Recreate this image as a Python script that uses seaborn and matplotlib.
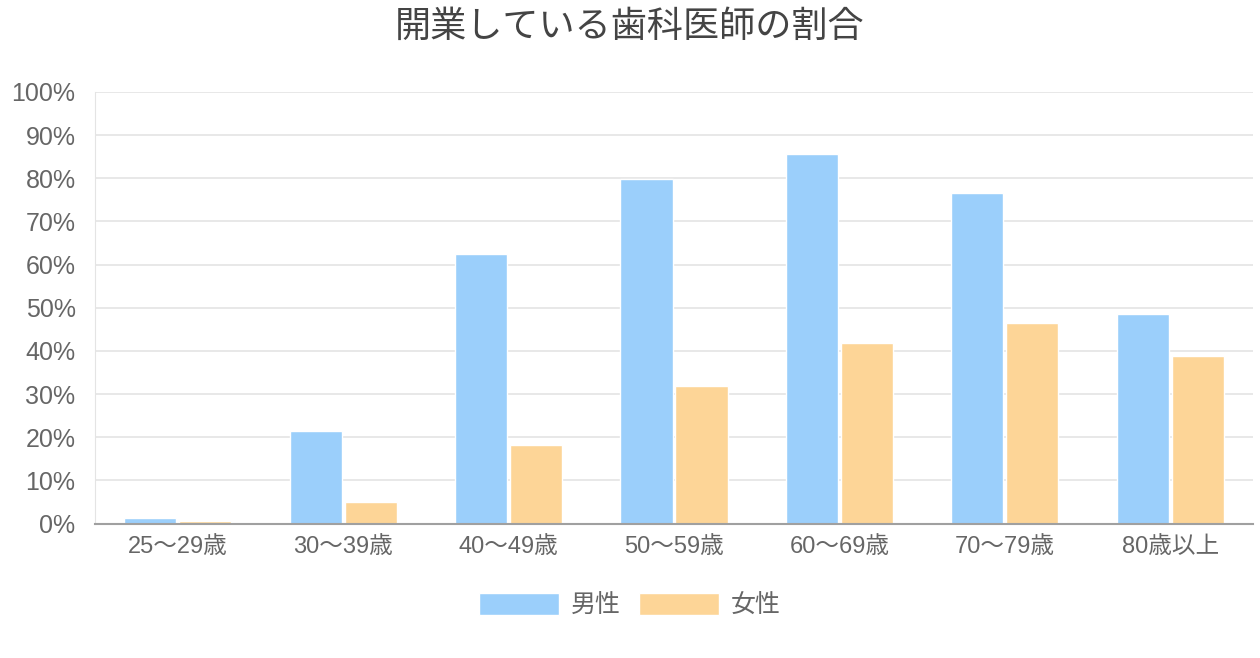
import pandas as pd
import matplotlib.pyplot as plt
import seaborn as sns
from matplotlib.ticker import MultipleLocator, FuncFormatter

age_groups = ['25〜29歳', '30〜39歳', '40〜49歳', '50〜59歳', '60〜69歳', '70〜79歳', '80歳以上']
male = [1.2, 21.4, 62.5, 79.9, 85.7, 76.5, 48.5]
female = [0.6, 5.0, 18.3, 31.9, 41.8, 46.4, 38.8]
series = ['男性', '女性']

df = pd.DataFrame({
    'age': age_groups * 2,
    'sex': [series[0]] * len(age_groups) + [series[1]] * len(age_groups),
    'rate': male + female,
})

sns.set_style('white')
plt.rcParams['font.family'] = ['Liberation Sans', 'Noto Sans CJK JP', 'DejaVu Sans']

fig = plt.figure(figsize=(12.6, 6.58), dpi=100)
ax = fig.add_axes([0.0754, 0.2044, 0.9190, 0.6558])

palette = {'男性': '#9bcffb', '女性': '#fdd597'}
sns.barplot(data=df, x='age', y='rate', hue='sex', order=age_groups,
            hue_order=series, palette=palette, width=0.665, gap=0.05,
            saturation=1, ax=ax, legend=True)

ax.set_ylim(0, 100)
ax.set_xlim(-0.5, len(age_groups) - 0.5)
ax.yaxis.set_major_locator(MultipleLocator(10))
ax.yaxis.set_major_formatter(FuncFormatter(lambda v, p: f'{int(v)}%'))
ax.set_xlabel('')
ax.set_ylabel('')
ax.grid(axis='y', color='#e4e4e4', linewidth=1.2)
ax.set_axisbelow(True)
for s in ['top', 'right']:
    ax.spines[s].set_visible(False)
ax.spines['left'].set_color('#e4e4e4')
ax.spines['bottom'].set_color('#a0a0a0')
ax.spines['bottom'].set_linewidth(1.5)
ax.tick_params(axis='y', labelsize=18, colors='#666666', length=0, pad=14)
ax.tick_params(axis='x', labelsize=17, colors='#666666', length=0, pad=9)

handles, labels = ax.get_legend_handles_labels()
ax.get_legend().remove()
leg = fig.legend(handles, labels, loc='center', bbox_to_anchor=(0.5, 0.08), ncol=2,
                 frameon=False, fontsize=18, handlelength=3.2, handleheight=1.0,
                 handletextpad=0.48, columnspacing=0.72)
for t in leg.get_texts():
    t.set_color('#666666')

fig.text(0.5, 0.958, '開業している歯科医師の割合', ha='center', va='center',
         fontsize=26, color='#444444')

fig.savefig('out.png', dpi=100)
